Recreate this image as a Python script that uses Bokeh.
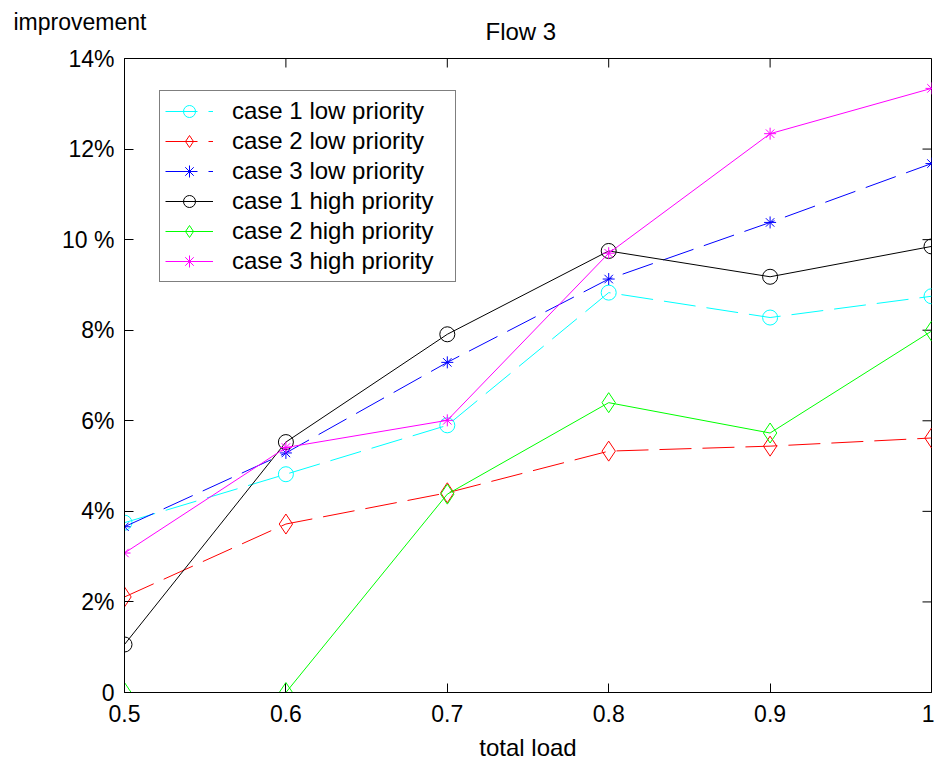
import math
from bokeh.plotting import figure
from bokeh.models import FixedTicker, Legend, LegendItem, Title
from bokeh.embed import file_html
from bokeh.resources import INLINE

# ---- data ----
total_load = [0.5, 0.6, 0.7, 0.8, 0.9, 1.0]
case1_low = [3.75, 4.82, 5.90, 8.83, 8.28, 8.75]
case2_low = [2.11, 3.72, 4.41, 5.33, 5.44, 5.62]
case3_low = [3.66, 5.29, 7.29, 9.13, 10.38, 11.68]
case1_high = [1.06, 5.53, 7.91, 9.75, 9.18, 9.85]
case2_high = [0.0, 0.0, 4.38, 6.40, 5.73, 7.98]
case3_high = [3.08, 5.41, 6.01, 9.70, 12.34, 13.34]

series_names = ["case 1 low priority", "case 2 low priority", "case 3 low priority",
                "case 1 high priority", "case 2 high priority", "case 3 high priority"]

x_ticks = [0.5, 0.6, 0.7, 0.8, 0.9, 1.0]
x_tick_labels = ["0.5", "0.6", "0.7", "0.8", "0.9", "1"]
y_ticks = [0, 2, 4, 6, 8, 10, 12, 14]
y_tick_labels = ["0", "2%", "4%", "6%", "8%", "10 %", "12%", "14%"]

FONT = "Liberation Sans"
X0, X1, Y0, Y1 = 0.5, 1.0, 0, 14

p = figure(width=934, height=763, x_range=(X0, X1), y_range=(Y0, Y1),
           output_backend="svg", toolbar_location=None,
           min_border_left=124, min_border_right=3, min_border_top=58, min_border_bottom=69,
           background_fill_color="white", border_fill_color="white")
p.outline_line_color = "black"
p.grid.visible = False

# outer title: the y quantity name at the top-left
p.title.text = "improvement"
p.title.align = "left"
p.title.offset = -111
p.title.standoff = -67
p.title.text_font = FONT
p.title.text_font_size = "23px"
p.title.text_font_style = "normal"
p.title.text_color = "black"

# inner title: chart title
flow_title = Title(text="Flow 3", align="left", offset=361, standoff=28,
                   text_font=FONT, text_font_size="24px",
                   text_font_style="normal", text_color="black")
p.add_layout(flow_title, "above")


def style_axis(ax):
    ax.major_tick_in = 9
    ax.major_tick_out = 0
    ax.minor_tick_in = 0
    ax.minor_tick_out = 0
    ax.axis_line_color = "black"
    ax.major_tick_line_color = "black"
    ax.major_label_text_font = FONT
    ax.major_label_text_color = "black"
    ax.major_label_text_font_size = "23px"


xa = p.xaxis[0]
xa.ticker = FixedTicker(ticks=x_ticks)
xa.major_label_overrides = {t: s for t, s in zip(x_ticks, x_tick_labels)}
style_axis(xa)
xa.major_label_standoff = 12
xa.axis_label = "total load"
xa.axis_label_text_font = FONT
xa.axis_label_text_font_size = "24px"
xa.axis_label_text_font_style = "normal"
xa.axis_label_text_color = "black"
xa.axis_label_standoff = 9

ya = p.yaxis[0]
ya.ticker = FixedTicker(ticks=y_ticks)
ya.major_label_overrides = {t: s for t, s in zip(y_ticks, y_tick_labels)}
style_axis(ya)
ya.major_label_standoff = 10

# inward ticks on the top and right edges of the box
p.ray(x=x_ticks, y=[Y1] * len(x_ticks), length=9, length_units="screen",
      angle=-math.pi / 2, line_color="black", line_width=1)
p.ray(x=[X1] * len(y_ticks), y=y_ticks, length=9, length_units="screen",
      angle=math.pi, line_color="black", line_width=1)

styles = [
    ("#00FFFF", "32 11", "circle", 15),
    ("#FF0000", "32 11", "diamond", 20),
    ("#0000FF", "32 11", "asterisk", 12),
    ("#000000", "solid", "circle", 15),
    ("#00FF00", "solid", "diamond", 20),
    ("#FF00FF", "solid", "asterisk", 12),
]
series = [case1_low, case2_low, case3_low, case1_high, case2_high, case3_high]

items = []
for name, ys, (col, dash, mk, sz) in zip(series_names, series, styles):
    lr = p.line(total_load, ys, line_color=col, line_width=1, line_dash=dash)
    sr = p.scatter(total_load, ys, marker=mk, size=sz, line_color=col,
                   fill_color=None, line_width=1)
    items.append(LegendItem(label=name, renderers=[lr, sr]))

legend = Legend(items=items, location=(35, 410), margin=0, padding=5,
                spacing=0, label_height=30, glyph_height=30, glyph_width=48,
                label_standoff=19, label_width=218,
                label_text_font=FONT, label_text_font_size="24px",
                label_text_color="black",
                border_line_color="black", border_line_width=1,
                background_fill_color="white", background_fill_alpha=1.0)
p.add_layout(legend)

open("out.html", "w").write(file_html(p, INLINE))
